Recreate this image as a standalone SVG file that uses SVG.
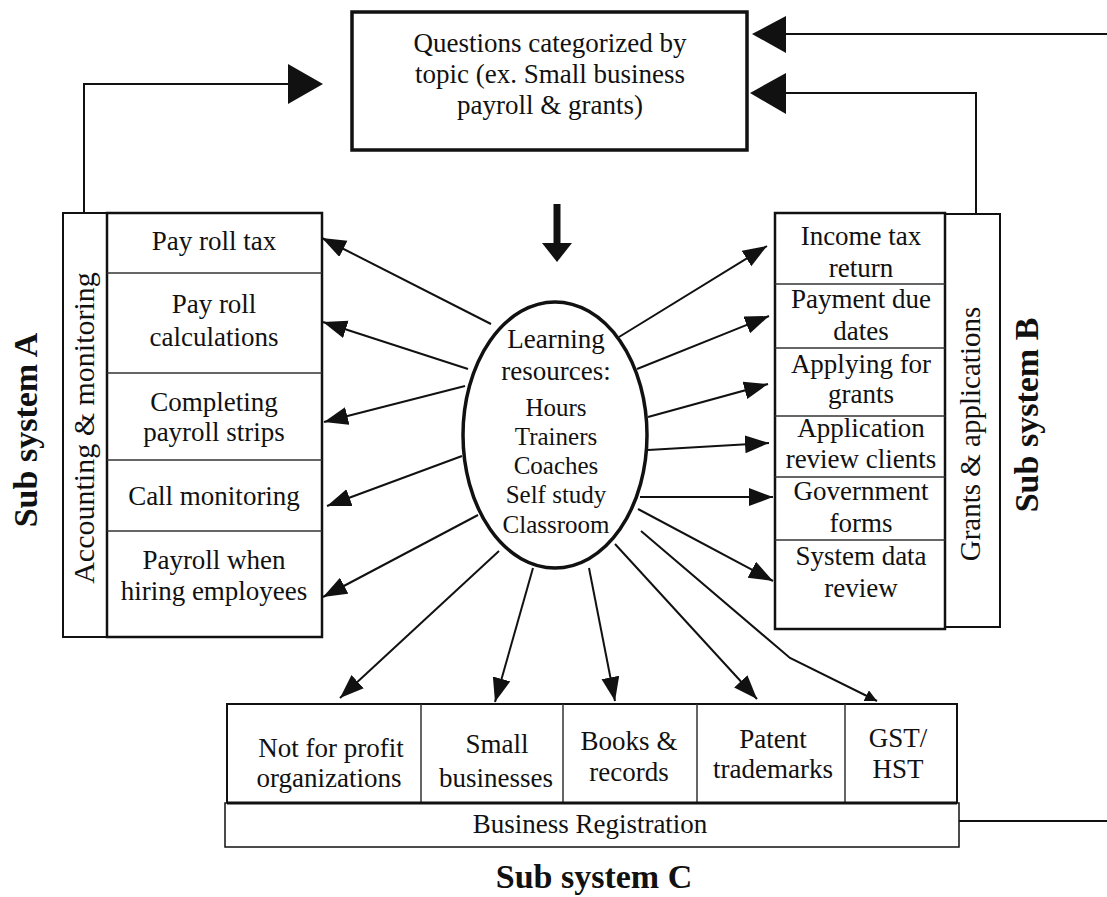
<svg xmlns="http://www.w3.org/2000/svg" width="1107" height="897" viewBox="0 0 1107 897">
  <style>
    .t { font-family: "Liberation Serif", "Times New Roman", serif; font-size: 27px; fill: #111; text-anchor: middle; }
    .s { font-size: 25px; }
    .b { font-weight: bold; font-size: 34px; }
    .box { fill: #fff; stroke: #111; }
    .div { stroke: #333; stroke-width: 1.5; fill: none; }
    .ln { stroke: #111; stroke-width: 2; fill: none; }
    .head { fill: #111; stroke: none; }
  </style>
  <defs>
    <marker id="arr" markerUnits="userSpaceOnUse" markerWidth="26" markerHeight="20" refX="24" refY="9" orient="auto">
      <path d="M0,0 L24,9 L0,18 z" fill="#111"/>
    </marker>
    <marker id="arrSmall" markerUnits="userSpaceOnUse" markerWidth="14" markerHeight="14" refX="12" refY="6" orient="auto">
      <path d="M0,0 L12,6 L0,12 z" fill="#111"/>
    </marker>
  </defs>
  <rect width="1107" height="897" fill="#fff"/>

  <!-- central question box -->
  <g id="questions">
    <rect class="box" x="352" y="12" width="395" height="138" stroke-width="3.5"/>
    <text class="t" x="550" y="52">Questions categorized by</text>
    <text class="t" x="550" y="83">topic (ex. Small business</text>
    <text class="t" x="550" y="114">payroll &amp; grants)</text>
  </g>

  <!-- learning resources hub -->
  <g id="resources">
    <ellipse class="box" cx="555" cy="435" rx="92" ry="133" stroke-width="3.5"/>
    <text class="t" x="556" y="348">Learning</text>
    <text class="t" x="556" y="380">resources:</text>
    <text class="t s" x="556" y="416">Hours</text>
    <text class="t s" x="556" y="445">Trainers</text>
    <text class="t s" x="556" y="474">Coaches</text>
    <text class="t s" x="556" y="503">Self study</text>
    <text class="t s" x="556" y="533">Classroom</text>
  </g>

  <!-- Sub system A -->
  <g id="subsystem-a">
    <rect class="box" x="63" y="213" width="44" height="424" stroke-width="2"/>
    <rect class="box" x="107" y="213" width="215" height="424" stroke-width="2.5"/>
    <line class="div" x1="107" y1="273" x2="322" y2="273"/>
    <line class="div" x1="107" y1="373" x2="322" y2="373"/>
    <line class="div" x1="107" y1="460" x2="322" y2="460"/>
    <line class="div" x1="107" y1="531" x2="322" y2="531"/>
    <text class="t" x="214" y="250">Pay roll tax</text>
    <text class="t" x="214" y="313">Pay roll</text>
    <text class="t" x="214" y="346">calculations</text>
    <text class="t" x="214" y="411">Completing</text>
    <text class="t" x="214" y="441">payroll strips</text>
    <text class="t" x="214" y="505">Call monitoring</text>
    <text class="t" x="214" y="569">Payroll when</text>
    <text class="t" x="214" y="600">hiring employees</text>
    <text class="t" style="font-size:30px" transform="translate(94 428) rotate(-90)">Accounting &amp; monitoring</text>
    <text class="t b" transform="translate(37 430) rotate(-90)">Sub system A</text>
  </g>

  <!-- Sub system B -->
  <g id="subsystem-b">
    <rect class="box" x="945" y="214" width="55" height="413" stroke-width="2"/>
    <rect class="box" x="775" y="213" width="170" height="416" stroke-width="2.5"/>
    <line class="div" x1="775" y1="284" x2="945" y2="284"/>
    <line class="div" x1="775" y1="348" x2="945" y2="348"/>
    <line class="div" x1="775" y1="416" x2="945" y2="416"/>
    <line class="div" x1="775" y1="477" x2="945" y2="477"/>
    <line class="div" x1="775" y1="540" x2="945" y2="540"/>
    <text class="t" x="861" y="245">Income tax</text>
    <text class="t" x="861" y="277">return</text>
    <text class="t" x="861" y="308">Payment due</text>
    <text class="t" x="861" y="340">dates</text>
    <text class="t" x="861" y="373">Applying for</text>
    <text class="t" x="861" y="403">grants</text>
    <text class="t" x="861" y="437">Application</text>
    <text class="t" x="861" y="468">review clients</text>
    <text class="t" x="861" y="500">Government</text>
    <text class="t" x="861" y="532">forms</text>
    <text class="t" x="861" y="565">System data</text>
    <text class="t" x="861" y="597">review</text>
    <text class="t" style="font-size:29px" transform="translate(980 434) rotate(-90)">Grants &amp; applications</text>
    <text class="t b" transform="translate(1038 415) rotate(-90)">Sub system B</text>
  </g>

  <!-- Sub system C -->
  <g id="subsystem-c">
    <rect class="box" x="227" y="704" width="730" height="99" stroke-width="2"/>
    <line class="div" x1="421" y1="704" x2="421" y2="803"/>
    <line class="div" x1="563" y1="704" x2="563" y2="803"/>
    <line class="div" x1="697" y1="704" x2="697" y2="803"/>
    <line class="div" x1="845" y1="704" x2="845" y2="803"/>
    <rect class="box" x="225" y="803" width="734" height="44" stroke-width="1.5"/>
    <line x1="227" y1="803" x2="957" y2="803" stroke="#111" stroke-width="3"/>
    <text class="t" x="331" y="757">Not for profit</text>
    <text class="t" x="329" y="787">organizations</text>
    <text class="t" x="497" y="753">Small</text>
    <text class="t" x="496" y="787">businesses</text>
    <text class="t" x="629" y="750">Books &amp;</text>
    <text class="t" x="629" y="781">records</text>
    <text class="t" x="773" y="748">Patent</text>
    <text class="t" x="773" y="778">trademarks</text>
    <text class="t" x="898" y="747">GST/</text>
    <text class="t" x="898" y="778">HST</text>
    <text class="t" x="590" y="833">Business Registration</text>
    <text class="t b" x="594" y="888">Sub system C</text>
  </g>

  <!-- connectors -->
  <g id="connectors">
    <!-- feedback loops into the question box -->
    <polyline class="ln" points="84,213 84,84 290,84"/>
    <path class="head" d="M288,64 L323,84 L288,104 z"/>
    <line class="ln" x1="1107" y1="34" x2="784" y2="34" stroke-width="2.5"/>
    <path class="head" d="M786,16 L752,34 L786,53 z"/>
    <polyline class="ln" points="976,213 976,93 784,93" stroke-width="2.5"/>
    <path class="head" d="M786,73 L750,93 L786,114 z"/>
    <line class="ln" x1="959" y1="821" x2="1107" y2="821" stroke-width="2.5"/>

    <!-- question box down to resources -->
    <line x1="557" y1="204" x2="557" y2="245" stroke="#111" stroke-width="7"/>
    <path class="head" d="M542,243 L572,243 L557,262 z"/>

    <!-- resources to sub system A -->
    <line class="ln" x1="491" y1="324" x2="322" y2="238" marker-end="url(#arr)"/>
    <line class="ln" x1="468" y1="369" x2="323" y2="322" marker-end="url(#arr)"/>
    <line class="ln" x1="465" y1="386" x2="324" y2="422" marker-end="url(#arr)"/>
    <line class="ln" x1="462" y1="456" x2="327" y2="506" marker-end="url(#arr)"/>
    <line class="ln" x1="478" y1="515" x2="323" y2="597" marker-end="url(#arr)"/>

    <!-- resources to sub system B -->
    <line class="ln" x1="619" y1="337" x2="767" y2="246" marker-end="url(#arr)"/>
    <line class="ln" x1="637" y1="369" x2="769" y2="316" marker-end="url(#arr)"/>
    <line class="ln" x1="648" y1="417" x2="768" y2="384" marker-end="url(#arr)"/>
    <line class="ln" x1="648" y1="450" x2="769" y2="443" marker-end="url(#arr)"/>
    <line class="ln" x1="640" y1="497" x2="773" y2="497" marker-end="url(#arr)"/>
    <line class="ln" x1="638" y1="509" x2="773" y2="581" marker-end="url(#arr)"/>

    <!-- resources to sub system C -->
    <line class="ln" x1="499" y1="551" x2="340" y2="698" marker-end="url(#arr)"/>
    <line class="ln" x1="533" y1="568" x2="495" y2="702" marker-end="url(#arr)"/>
    <line class="ln" x1="589" y1="568" x2="615" y2="701" marker-end="url(#arr)"/>
    <line class="ln" x1="615" y1="544" x2="757" y2="699" marker-end="url(#arr)"/>
    <polyline class="ln" points="641,531 790,658 877,701" stroke-width="2.5" marker-end="url(#arrSmall)"/>
  </g>
</svg>
